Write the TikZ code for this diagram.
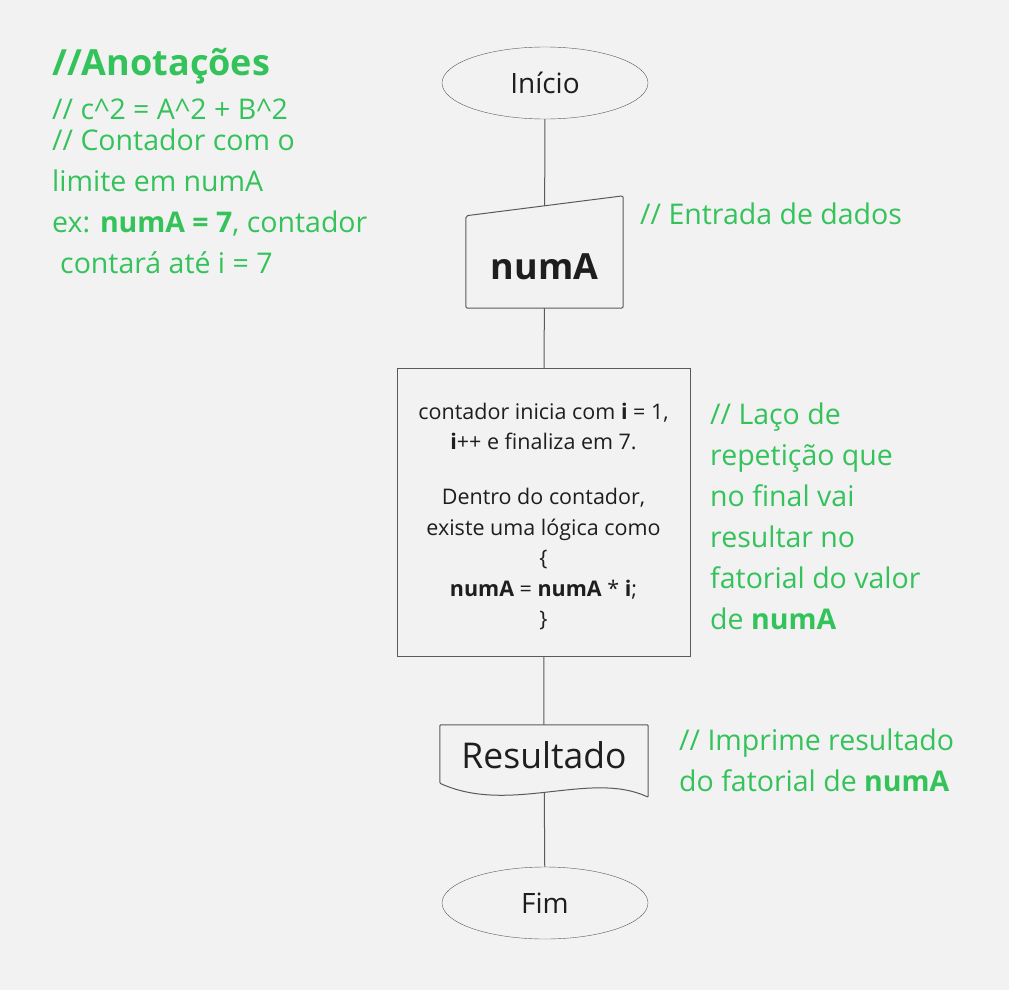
\documentclass[tikz,border=0pt]{standalone}
\usepackage{fontspec}
\setmainfont{Open Sans}
\usetikzlibrary{positioning, calc, backgrounds, shapes.geometric}
\definecolor{PageGray}{RGB}{242,242,242}
\definecolor{NoteGreen}{RGB}{52,194,90}
\definecolor{LineGray}{RGB}{90,90,90}
\definecolor{InkDark}{RGB}{30,30,30}

\begin{document}
\begin{tikzpicture}[x=1pt,y=-1pt,
        termnode/.style={ellipse,draw=LineGray,fill=PageGray,inner sep=0pt,
                         minimum width=206pt,minimum height=72pt,
                         font=\fontsize{28}{32}\selectfont,text=InkDark},
        iobox/.style={inner sep=0pt,minimum width=157pt,minimum height=82pt,
                      font=\fontsize{36}{40}\selectfont\bfseries,text=InkDark},
        procnode/.style={draw=LineGray,fill=PageGray,inner sep=0pt,
                         minimum width=293pt,minimum height=288pt},
        proctext/.style={inner sep=0pt,align=center,
                         font=\fontsize{21.5}{30.5}\selectfont,text=InkDark},
        docbox/.style={inner sep=0pt,minimum width=208pt,minimum height=60pt,
                       font=\fontsize{35.5}{38}\selectfont,text=InkDark},
        note/.style={inner sep=0pt,align=left,text=NoteGreen,
                     font=\fontsize{28.5}{41}\selectfont},
        shapeline/.style={draw=LineGray,fill=PageGray,line width=1pt},
        arr/.style={draw=LineGray,line width=1pt}
      ]
        \useasboundingbox (0,0) rectangle (1009,990);

        % flowchart
        \node[termnode] (inicio) at (545,83) {Início};
        \node[iobox]    (entrada) at (544.5,267) {};
        \draw[shapeline,rounded corners=2pt] (entrada.south west)
              -- ($(entrada.north west)+(0,-10)$)
              -- ($(entrada.north east)+(0,-30)$)
              -- (entrada.south east) -- cycle;
        \node[iobox]    (entradatxt) at (entrada.center) {numA};
        \node[procnode] (laco) at (543.5,512) {};
        \node[proctext] (lacotxt) at ($(laco.center)+(0,4.5)$)
              {contador inicia com \textbf{i} = 1,\\
              \textbf{i}++ e finaliza em 7.\\[24.5pt]
              Dentro do contador,\\ existe uma lógica como\\ \{\\
              \textbf{numA} = \textbf{numA} * \textbf{i};\\ \}};
        \node[docbox]   (saida) at (544,755) {};
        \draw[shapeline,rounded corners=1pt] (saida.north west) -- (saida.north east)
              -- ($(saida.south east)+(0,12)$)
              .. controls (590,770) and (510,815) .. ($(saida.south west)+(0,-2)$)
              -- cycle;
        \node[docbox]   (saidatxt) at (saida.center) {Resultado};
        \node[termnode] (fim) at (545,903) {Fim};

        \begin{scope}[on background layer]
          \fill[PageGray] (0,0) rectangle (1009,990);
          \draw[arr] (inicio.center) -- (entrada.center);
          \draw[arr] (entrada.center) -- (laco.center);
          \draw[arr] (laco.center) -- (saida.center);
          \draw[arr] (saida.center) -- (fim.center);
        \end{scope}

        % anotacoes
        \node[note,anchor=base west,font=\fontsize{36}{40}\selectfont\bfseries]
              (titulo) at (52,75) {//Anotações};
        \node[note,anchor=base west] (notaesq) at (52,273)
              {// c\textasciicircum2 = A\textasciicircum2 + B\textasciicircum2\\[-10pt]
               // Contador com o\\ limite em numA\\
               ex: \textbf{numA = 7}, contador\\ \hspace*{8pt}contará até i = 7};
        \node[note,anchor=base west] (notaentrada) at (640,224) {// Entrada de dados};
        \node[note,anchor=base west] (notalaco) at (710,629)
              {// Laço de\\ repetição que\\ no final vai\\ resultar no\\
               fatorial do valor\\ de \textbf{numA}};
        \node[note,anchor=base west] (notasaida) at (679,791)
              {// Imprime resultado\\ do fatorial de \textbf{numA}};
      \end{tikzpicture}
\end{document}
